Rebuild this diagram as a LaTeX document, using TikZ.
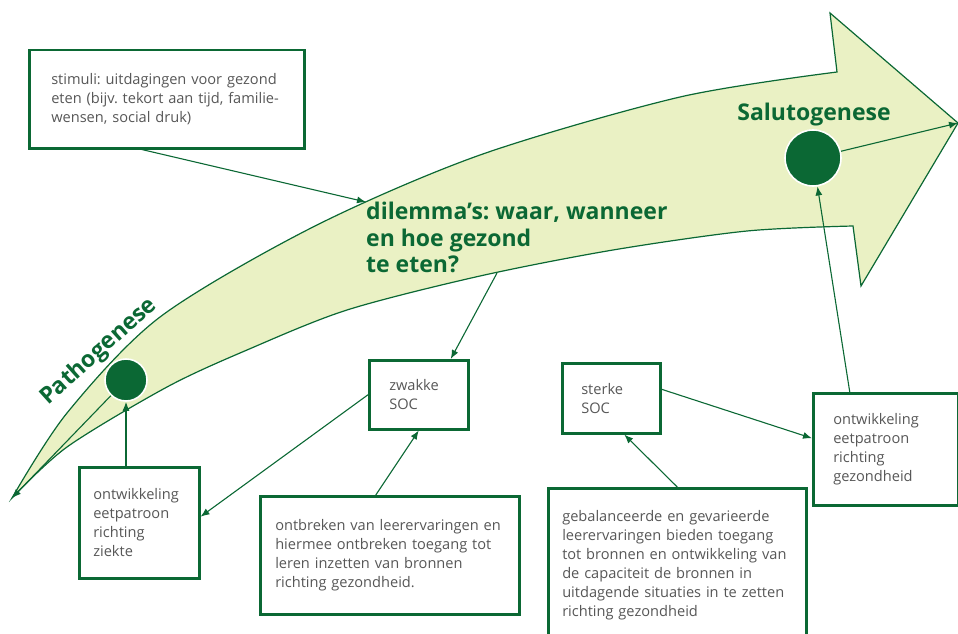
\documentclass[tikz,border=0pt]{standalone}
\usepackage{fontspec}
\setmainfont{Open Sans}
\frenchspacing
\usetikzlibrary{arrows.meta}
\tikzset{>={Latex[length=9pt,width=7pt]}}
\definecolor{dgreen}{HTML}{0B6834}
\definecolor{lgreen}{HTML}{EAF1C4}
\definecolor{tgray}{HTML}{575757}
\tikzstyle{box}=[draw=dgreen,line width=2.5pt,fill=white,text=tgray,anchor=north west,
  align=left,font=\fontsize{14.6}{19}\selectfont]
\tikzstyle{conn}=[dgreen,line width=1.1pt,->]
\tikzstyle{dot}=[circle,fill=dgreen,draw=white,line width=1.6pt,inner sep=0pt]
\tikzstyle{big}=[dgreen,font=\bfseries\fontsize{23}{26.5}\selectfont]

\begin{document}
\begin{tikzpicture}[x=1pt,y=-1pt]
  \useasboundingbox (0,0) rectangle (958,634);
  \coordinate (tail) at (12,498);
  \coordinate (tip) at (958,123);

  % ARROW
  \draw[dgreen,fill=lgreen,line width=1.2pt]
    plot[smooth] coordinates {(12,498) (67,413) (160,317) (313,227) (480,155) (680,97) (837,72)}
    -- (830,13) -- (tip) -- (861,286) -- (853,226)
    -- plot[smooth] coordinates {(853,226) (747,231) (613,250) (480,276) (347,310) (247,350) (167,387) (67,447) (12,498)}
    -- cycle;

  % LABELS
  \node[big,rotate=42] (patho) at (99,352) {Pathogenese};
  \node[big,anchor=base] (saluto) at (814,120) {Salutogenese};
  \node[big,anchor=north west,inner sep=0pt,align=left] (dilemma) at (366,202)
    {dilemma’s: waar, wanneer\\en hoe gezond\\te eten?};
  \node[dot,minimum size=42pt] (pdot) at (126,380) {};
  \node[dot,minimum size=56pt] (sdot) at (813,158) {};

  % BOXES
  \node[box,text width=231pt,inner xsep=22pt,minimum height=98pt] (stimuli) at (28,49)
    {stimuli: uitdagingen voor gezond\\eten (bijv. tekort aan tijd, familie-\\wensen, social druk)};
  \node[box,text width=59pt,inner xsep=20pt,minimum height=69pt] (zwakke) at (368,359)
    {zwakke\\SOC};
  \node[box,text width=92pt,inner xsep=14pt,minimum height=111pt] (ontwziekte) at (78,466)
    {ontwikkeling\\eetpatroon\\richting\\ziekte};
  \node[box,text width=229pt,inner xsep=15pt,minimum height=118pt] (ontbreken) at (259,495)
    {ontbreken van leerervaringen en\\hiermee ontbreken toegang tot\\leren inzetten van bronnen\\richting gezondheid.};
  \node[box,text width=60pt,inner xsep=19pt,minimum height=70pt] (sterke) at (561,362)
    {sterke\\SOC};
  \node[box,text width=105pt,inner xsep=20pt,minimum height=112pt] (ontwgezond) at (812,392)
    {ontwikkeling\\eetpatroon\\richting\\gezondheid};
  \node[box,text width=230pt,inner xsep=14pt,minimum height=153pt] (gebal) at (547,487)
    {gebalanceerde en gevarieerde\\leerervaringen bieden toegang\\tot bronnen en ontwikkeling van\\de capaciteit de bronnen in\\uitdagende situaties in te zetten\\richting gezondheid};

  % CONNECTIONS
  \coordinate (dilout) at (497,273);
  \draw[conn] ([xshift=-25pt]stimuli.south) -- (dilemma.north west);
  \draw[conn] (dilout) -- ([xshift=32pt]zwakke.north);
  \draw[conn] (zwakke.west) -- ([yshift=6pt]ontwziekte.east);
  \draw[conn] ([xshift=-14pt]ontbreken.north) -- (zwakke.south);
  \draw[conn] (pdot.south |- ontwziekte.north) -- (pdot.south);
  \draw[conn] (pdot) -- (tail);
  \draw[conn] ([yshift=9pt]sterke.east) -- ([yshift=11pt]ontwgezond.west);
  \draw[conn] (gebal.north) -- ([xshift=13pt]sterke.south);
  \draw[conn] ([xshift=-36pt]ontwgezond.north) -- (sdot);
  \draw[conn] (sdot) -- (tip);
\end{tikzpicture}
\end{document}
